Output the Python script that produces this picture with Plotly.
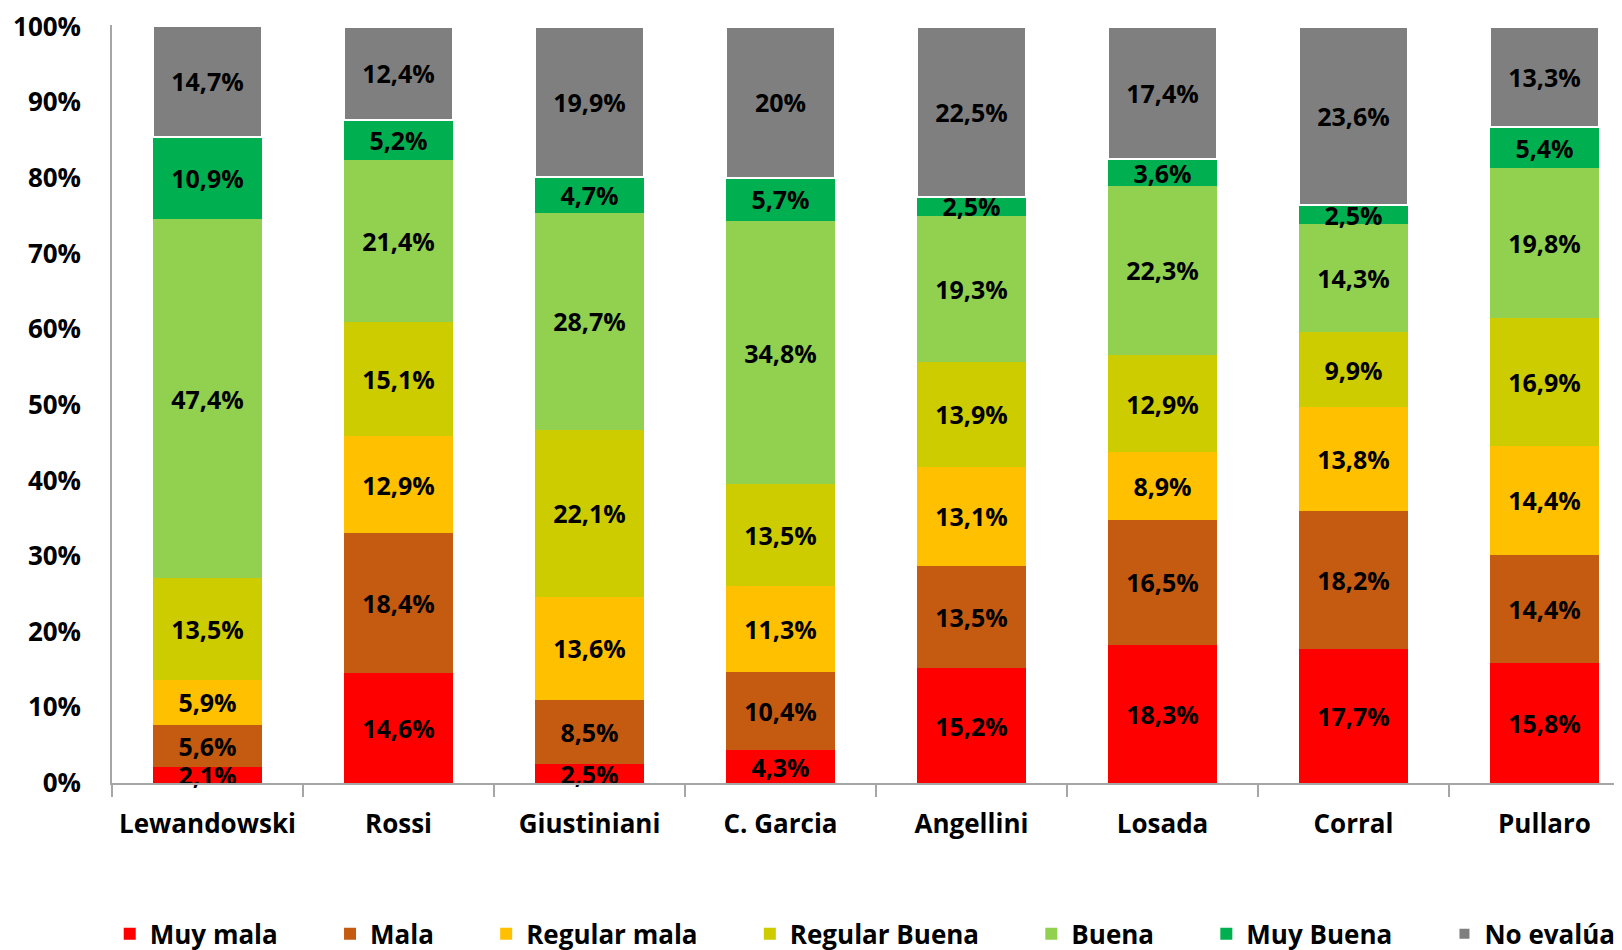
import plotly.graph_objects as go

candidates = ["Lewandowski", "Rossi", "Giustiniani", "C. Garcia", "Angellini", "Losada", "Corral", "Pullaro"]

muy_mala      = [2.1, 14.6, 2.5, 4.3, 15.2, 18.3, 17.7, 15.8]
mala          = [5.6, 18.4, 8.5, 10.4, 13.5, 16.5, 18.2, 14.4]
regular_mala  = [5.9, 12.9, 13.6, 11.3, 13.1, 8.9, 13.8, 14.4]
regular_buena = [13.5, 15.1, 22.1, 13.5, 13.9, 12.9, 9.9, 16.9]
buena         = [47.4, 21.4, 28.7, 34.8, 19.3, 22.3, 14.3, 19.8]
muy_buena     = [10.9, 5.2, 4.7, 5.7, 2.5, 3.6, 2.5, 5.4]
no_evalua     = [14.7, 12.4, 19.9, 20.0, 22.5, 17.4, 23.6, 13.3]

series_names = ["Muy mala", "Mala", "Regular mala", "Regular Buena", "Buena", "Muy Buena", "No evalúa"]
series_values = [muy_mala, mala, regular_mala, regular_buena, buena, muy_buena, no_evalua]
series_colors = ["#FF0000", "#C55A11", "#FFC000", "#CCCC00", "#92D050", "#00B050", "#7F7F7F"]

y_tick_values = [0, 10, 20, 30, 40, 50, 60, 70, 80, 90, 100]
y_tick_labels = [f"{v}%" for v in y_tick_values]


def fmt(v):
    s = f"{v:.1f}"
    if s.endswith(".0"):
        s = s[:-2]
    return s.replace(".", ",") + "%"


FONT = "Open Sans"
NB = "\u00a0"
pad = NB * 7

fig = go.Figure()
for i, (name, vals, col) in enumerate(zip(series_names, series_values, series_colors)):
    is_first = i == 0
    is_last = i == len(series_names) - 1
    fig.add_trace(go.Bar(
        x=candidates,
        y=vals,
        name=name + ("" if is_last else pad),
        marker=dict(color=col,
                    line=dict(color="white", width=2 if is_last else 0)),
        text=[fmt(v) for v in vals],
        textposition="inside",
        insidetextanchor="middle",
        textangle=0,
        constraintext="none",
        cliponaxis=not is_first,
        textfont=dict(family=FONT, size=25, color="black", weight="bold"),
        hoverinfo="skip",
    ))

# page body has an 8px margin; figure placed so the plot lines up with the window
W, H = 1614, 950
L, T, B = 104, 16.5, 175
cat_px = 191.0
plot_w = W - L
x_max = -0.5 + plot_w / cat_px
plot_h = H - T - B

fig.update_layout(
    barmode="stack",
    bargap=0.43,
    width=W,
    height=H,
    margin=dict(l=L, r=0, t=T, b=B, pad=0),
    plot_bgcolor="white",
    paper_bgcolor="white",
    showlegend=True,
    legend=dict(
        orientation="h",
        x=-0.0015,
        xanchor="left",
        y=-151 / plot_h,
        yanchor="middle",
        font=dict(family=FONT, size=26, color="black", weight="bold"),
        traceorder="normal",
        itemclick=False,
        itemdoubleclick=False,
    ),
    xaxis=dict(
        range=[-0.5, x_max],
        showline=True,
        linecolor="#A6A6A6",
        linewidth=1.5,
        ticks="outside",
        tickson="boundaries",
        ticklen=12,
        tickcolor="#A6A6A6",
        tickwidth=1.5,
        ticklabelstandoff=17,
        tickfont=dict(family=FONT, size=26, color="black", weight="bold"),
        showgrid=False,
        zeroline=False,
        fixedrange=True,
    ),
    yaxis=dict(
        range=[0, 100.2],
        tickvals=y_tick_values,
        ticktext=y_tick_labels,
        showline=True,
        linecolor="#A6A6A6",
        linewidth=1.5,
        ticks="",
        ticklabelstandoff=24,
        ticklabeloverflow="allow",
        tickfont=dict(family=FONT, size=26, color="black", weight="bold"),
        showgrid=False,
        zeroline=False,
        fixedrange=True,
    ),
)

fig.write_html("out.html")
